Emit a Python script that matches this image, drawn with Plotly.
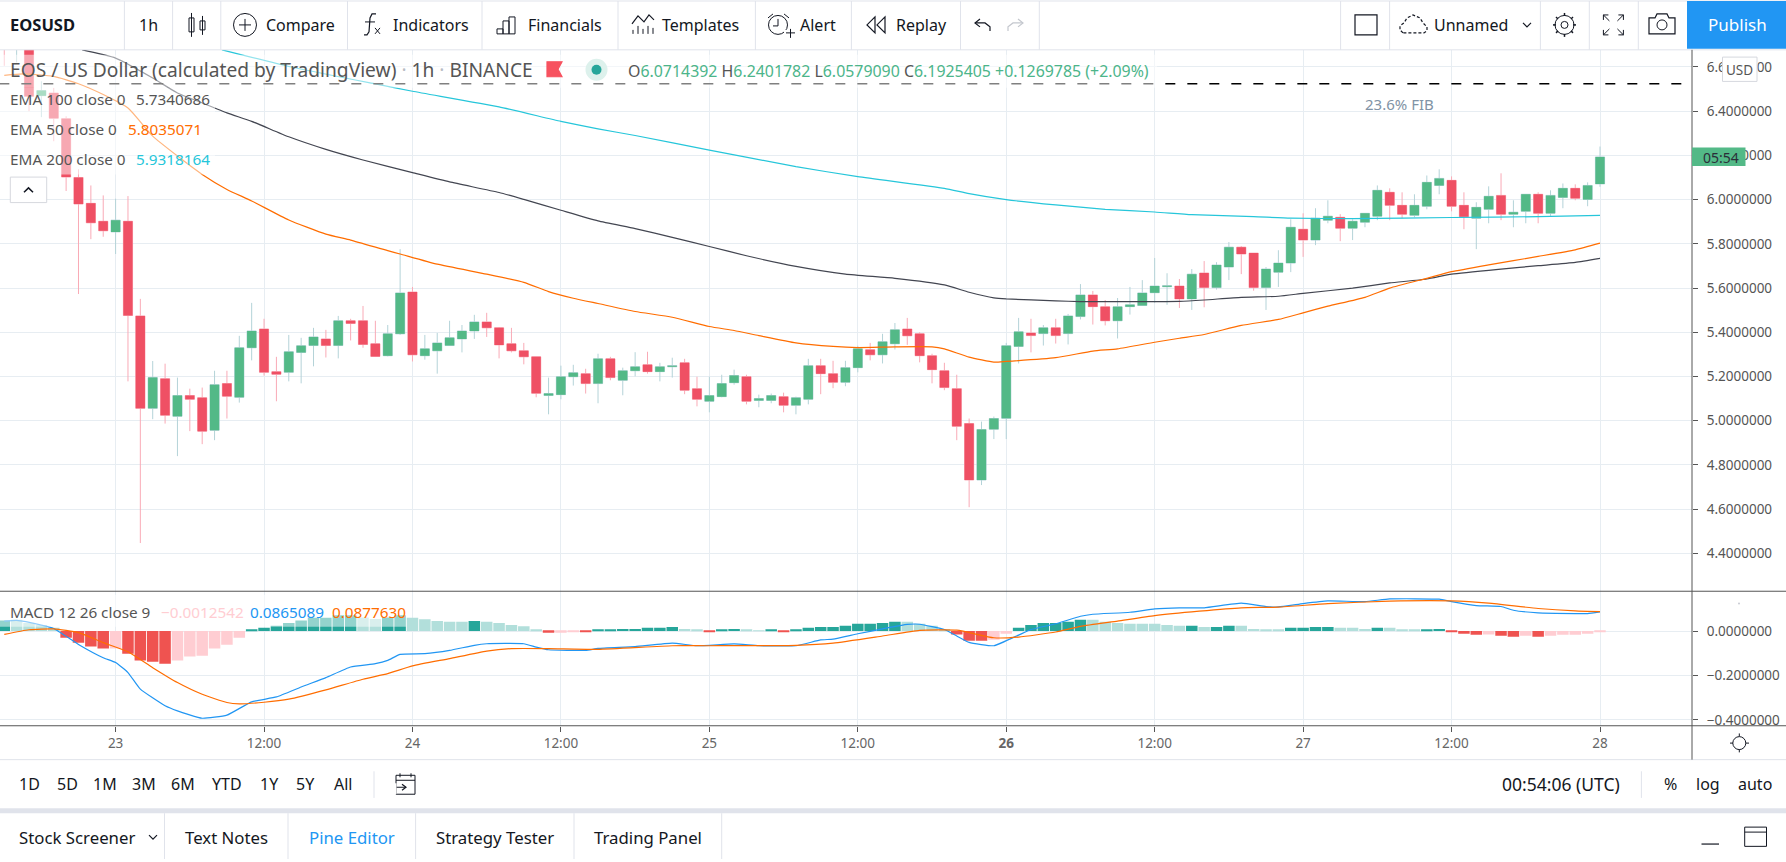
import plotly.graph_objects as go

W, H = 1786, 862
FONT = "Noto Sans"

# hours counted from the "23" gridline, one candle per hour
hours = list(range(-9, 121))

opens = [6.78, 6.72, 6.76, 6.470, 6.482, 6.366, 6.100, 5.983, 5.902, 5.854,
         5.902, 5.474, 5.056, 5.190, 5.020, 5.114, 5.104, 4.957, 5.168, 5.106,
         5.330, 5.415, 5.222, 5.219, 5.309, 5.340, 5.370, 5.340, 5.452, 5.452,
         5.348, 5.294, 5.393, 5.582, 5.294, 5.316, 5.340, 5.370, 5.406, 5.447,
         5.420, 5.348, 5.316, 5.289, 5.114, 5.118, 5.199, 5.213, 5.168, 5.280,
         5.183, 5.226, 5.253, 5.222, 5.244, 5.262, 5.145, 5.088, 5.109, 5.172,
         5.199, 5.092, 5.092, 5.109, 5.070, 5.097, 5.249, 5.213, 5.174, 5.240,
         5.321, 5.298, 5.348, 5.415, 5.393, 5.294, 5.226, 5.145, 4.987, 4.732,
         4.962, 5.011, 5.336, 5.397, 5.394, 5.420, 5.394, 5.471, 5.569, 5.515,
         5.452, 5.516, 5.521, 5.579, 5.606, 5.609, 5.551, 5.668, 5.602, 5.695,
         5.785, 5.758, 5.602, 5.672, 5.713, 5.866, 5.817, 5.907, 5.920, 5.871,
         5.898, 5.925, 6.033, 5.974, 5.929, 5.970, 6.064, 6.087, 5.974, 5.916,
         5.956, 6.019, 5.934, 5.947, 6.024, 5.938, 6.010, 6.051, 6.001, 6.071]
highs = [6.82, 6.80, 6.80, 6.535, 6.505, 6.377, 6.137, 6.064, 6.019, 6.004,
         6.016, 5.551, 5.270, 5.258, 5.195, 5.145, 5.150, 5.226, 5.226, 5.384,
         5.533, 5.461, 5.289, 5.388, 5.375, 5.420, 5.411, 5.474, 5.461, 5.519,
         5.452, 5.433, 5.776, 5.605, 5.388, 5.397, 5.452, 5.433, 5.479, 5.488,
         5.424, 5.420, 5.352, 5.289, 5.195, 5.249, 5.253, 5.235, 5.303, 5.289,
         5.240, 5.310, 5.312, 5.262, 5.285, 5.280, 5.199, 5.199, 5.208, 5.231,
         5.208, 5.118, 5.123, 5.127, 5.109, 5.280, 5.280, 5.271, 5.271, 5.339,
         5.352, 5.393, 5.442, 5.465, 5.400, 5.303, 5.262, 5.208, 5.010, 4.996,
         5.019, 5.352, 5.465, 5.461, 5.433, 5.461, 5.483, 5.618, 5.587, 5.546,
         5.555, 5.605, 5.636, 5.736, 5.667, 5.641, 5.686, 5.722, 5.717, 5.808,
         5.790, 5.758, 5.695, 5.771, 5.911, 5.938, 5.961, 5.997, 5.934, 5.911,
         5.938, 6.064, 6.051, 6.033, 6.024, 6.109, 6.137, 6.105, 6.033, 5.988,
         6.060, 6.119, 5.997, 6.024, 6.033, 6.042, 6.073, 6.069, 6.078, 6.240]
lows = [6.605, 6.62, 6.40, 6.373, 6.264, 6.039, 5.573, 5.821, 5.832, 5.754,
        5.178, 4.447, 5.007, 4.987, 4.840, 4.953, 4.894, 4.912, 5.010, 5.082,
        5.273, 5.204, 5.088, 5.178, 5.169, 5.246, 5.286, 5.282, 5.363, 5.330,
        5.288, 5.291, 5.388, 5.268, 5.276, 5.213, 5.340, 5.309, 5.370, 5.379,
        5.282, 5.309, 5.255, 5.106, 5.029, 5.097, 5.159, 5.123, 5.079, 5.183,
        5.115, 5.201, 5.213, 5.178, 5.195, 5.120, 5.065, 5.038, 5.106, 5.163,
        5.074, 5.061, 5.079, 5.038, 5.029, 5.074, 5.120, 5.147, 5.156, 5.219,
        5.273, 5.259, 5.322, 5.343, 5.264, 5.169, 5.138, 4.912, 4.609, 4.709,
        4.917, 4.917, 5.259, 5.309, 5.340, 5.349, 5.345, 5.458, 5.435, 5.431,
        5.372, 5.480, 5.521, 5.533, 5.524, 5.510, 5.501, 5.513, 5.593, 5.636,
        5.663, 5.588, 5.501, 5.605, 5.672, 5.741, 5.794, 5.893, 5.812, 5.817,
        5.875, 5.907, 5.907, 5.916, 5.920, 5.956, 6.024, 5.947, 5.866, 5.776,
        5.893, 5.907, 5.875, 5.893, 5.893, 5.926, 5.961, 5.997, 5.970, 6.058]
closes = [6.72, 6.76, 6.467, 6.493, 6.368, 6.102, 5.980, 5.895, 5.859, 5.907,
          5.476, 5.056, 5.195, 5.025, 5.114, 5.097, 4.953, 5.163, 5.111, 5.330,
          5.406, 5.219, 5.210, 5.312, 5.339, 5.379, 5.340, 5.452, 5.440, 5.345,
          5.291, 5.393, 5.578, 5.298, 5.325, 5.352, 5.375, 5.406, 5.447, 5.420,
          5.343, 5.316, 5.289, 5.124, 5.123, 5.199, 5.217, 5.168, 5.280, 5.195,
          5.226, 5.244, 5.222, 5.244, 5.249, 5.138, 5.097, 5.114, 5.168, 5.204,
          5.088, 5.100, 5.114, 5.070, 5.104, 5.249, 5.213, 5.174, 5.240, 5.325,
          5.298, 5.357, 5.411, 5.384, 5.294, 5.231, 5.150, 4.975, 4.732, 4.960,
          5.010, 5.339, 5.402, 5.385, 5.420, 5.385, 5.474, 5.569, 5.516, 5.452,
          5.515, 5.524, 5.578, 5.609, 5.610, 5.551, 5.663, 5.602, 5.704, 5.785,
          5.754, 5.602, 5.686, 5.713, 5.875, 5.817, 5.916, 5.925, 5.871, 5.902,
          5.938, 6.042, 5.974, 5.934, 5.974, 6.078, 6.096, 5.970, 5.923, 5.965,
          6.015, 5.934, 5.943, 6.024, 5.938, 6.019, 6.051, 6.006, 6.064, 6.193]

ema50_hours = [-9, -7.5, -5, -3, -1, 1, 3, 5, 7, 9, 11, 14, 17, 19, 22, 23, 26, 30, 33, 35, 37, 39,
               42, 45, 48, 50, 52, 55, 58, 60, 63, 66, 67, 69, 71, 72, 76, 79, 81, 84, 86, 88,
               91, 94, 96, 98, 101, 103, 106, 108, 111, 115, 118, 120]
ema50 = [6.562, 6.569, 6.557, 6.524, 6.475, 6.414, 6.287, 6.197, 6.114, 6.046, 5.994, 5.908, 5.844,
         5.817, 5.769, 5.754, 5.708, 5.663, 5.626, 5.584, 5.554, 5.530,
         5.494, 5.468, 5.426, 5.408, 5.385, 5.352, 5.336, 5.331, 5.334, 5.334, 5.325, 5.288, 5.265,
         5.268, 5.285, 5.315, 5.325, 5.355, 5.373, 5.390,
         5.431, 5.458, 5.488, 5.518, 5.558, 5.600, 5.644, 5.674, 5.705, 5.743, 5.773, 5.803]

ema100_hours = [-2.7, 0, 3, 5, 7, 9, 11, 14, 17, 20, 24, 27, 31, 33, 36, 39, 42, 45, 48, 51, 55, 59,
                63, 67, 69, 71, 72, 76, 78, 82, 86, 88, 91, 94, 96, 100, 103, 106, 108, 112, 115, 118, 120]
ema100 = [6.677, 6.640, 6.550, 6.482, 6.437, 6.392, 6.354, 6.284, 6.227, 6.179, 6.122, 6.080, 6.032,
          6.001, 5.952, 5.904, 5.869, 5.829, 5.788, 5.746, 5.698, 5.663, 5.644, 5.614, 5.581, 5.556,
          5.551, 5.542, 5.539, 5.539, 5.540, 5.546, 5.558, 5.563, 5.576, 5.600, 5.623, 5.641, 5.663,
          5.686, 5.701, 5.716, 5.734]

ema200_hours = [8.6, 14, 21, 24, 31, 36, 39, 42, 48, 55, 60, 67, 69, 72, 76, 80, 84, 87, 92, 95, 100,
                108, 115, 120]
ema200 = [6.677, 6.602, 6.523, 6.490, 6.419, 6.354, 6.320, 6.290, 6.224, 6.149, 6.104, 6.051, 6.027,
          6.000, 5.976, 5.956, 5.944, 5.932, 5.923, 5.916, 5.914, 5.919, 5.923, 5.929]

fib_hours = [-9.4, 126.7]
fib_level = [6.524, 6.524]

macd_hist = [0.048, 0.051, 0.037, 0.027, 0.015, -0.030, -0.052, -0.070, -0.079, -0.079,
             -0.102, -0.133, -0.138, -0.147, -0.133, -0.115, -0.111, -0.079, -0.061, -0.030,
             0.007, 0.015, 0.024, 0.037, 0.048, 0.060, 0.060, 0.072, 0.072, 0.061,
             0.055, 0.061, 0.072, 0.060, 0.054, 0.045, 0.042, 0.042, 0.046, 0.042,
             0.036, 0.028, 0.022, 0.007, -0.007, -0.007, -0.003, -0.003, 0.006, 0.006,
             0.010, 0.010, 0.015, 0.015, 0.019, 0.010, 0.006, -0.002, 0.006, 0.010,
             0.006, 0.002, 0.006, -0.002, 0.006, 0.015, 0.019, 0.019, 0.024, 0.033,
             0.033, 0.037, 0.042, 0.042, 0.033, 0.024, 0.009, -0.015, -0.043, -0.043,
             -0.039, -0.012, 0.015, 0.028, 0.037, 0.037, 0.042, 0.051, 0.051, 0.042,
             0.037, 0.033, 0.033, 0.033, 0.028, 0.024, 0.024, 0.019, 0.019, 0.024,
             0.024, 0.010, 0.006, 0.006, 0.015, 0.015, 0.019, 0.019, 0.015, 0.015,
             0.010, 0.015, 0.015, 0.006, 0.006, 0.006, 0.010, -0.003, -0.012, -0.016,
             -0.015, -0.021, -0.025, -0.021, -0.025, -0.021, -0.016, -0.016, -0.012, -0.001]
# 1 where the bar's size grew against the one before it, 0 where it shrank
macd_growing = [1, 0, 0, 0, 0, 1, 1, 1, 1, 0,
                1, 1, 1, 1, 0, 0, 0, 0, 0, 0,
                1, 1, 1, 1, 1, 1, 1, 1, 1, 0,
                0, 1, 1, 0, 0, 0, 0, 0, 1, 0,
                0, 0, 0, 0, 1, 0, 0, 1, 1, 1,
                1, 1, 1, 1, 1, 0, 0, 1, 1, 1,
                0, 0, 1, 1, 1, 1, 1, 1, 1, 1,
                1, 1, 1, 0, 0, 0, 0, 1, 1, 1,
                0, 0, 1, 1, 1, 1, 1, 1, 0, 0,
                0, 0, 0, 0, 0, 0, 1, 0, 1, 1,
                0, 0, 0, 0, 1, 1, 1, 1, 0, 0,
                0, 1, 0, 0, 0, 1, 1, 1, 1, 1,
                0, 1, 1, 0, 1, 0, 0, 0, 0, 0]

macd_hours = [-9, -8, -6, -5, -3, -1, 0, 1, 2, 4, 5, 7, 9, 11, 13, 15, 17, 19, 21, 22, 23, 25, 27, 29,
              30, 33, 34, 35, 38, 39, 42, 45, 47, 50, 52, 55, 57, 58, 60, 62, 64, 65, 67, 68, 69, 71,
              73, 74, 76, 78, 79, 82, 84, 86, 88, 91, 93, 94, 96, 98, 101, 103, 107, 108, 110, 112,
              113, 115, 118, 119, 120]
macd_line = [0.045, 0.048, 0.027, 0.012, -0.060, -0.120, -0.142, -0.187, -0.262, -0.337, -0.360, -0.393,
             -0.379, -0.319, -0.297, -0.252, -0.210, -0.162, -0.147, -0.132, -0.105, -0.102, -0.087,
             -0.064, -0.057, -0.057, -0.072, -0.084, -0.087, -0.078, -0.070, -0.054, -0.066, -0.058,
             -0.066, -0.066, -0.040, -0.036, -0.012, 0.010, 0.030, 0.031, 0.007, -0.022, -0.051, -0.066,
             -0.018, 0.007, 0.033, 0.067, 0.076, 0.085, 0.100, 0.105, 0.105, 0.126, 0.111, 0.109, 0.124,
             0.136, 0.133, 0.145, 0.144, 0.133, 0.115, 0.111, 0.094, 0.082, 0.079, 0.079, 0.0865]

signal_hours = [-9, -7, -5, -3, -1, 1, 3, 5, 7, 9, 10, 12, 14, 17, 20, 22, 24, 27, 30, 32, 35, 39, 45,
                48, 55, 58, 62, 65, 68, 71, 73, 76, 78, 81, 84, 87.6, 91, 94, 98, 103, 108, 111, 115,
                118, 120]
signal_line = [-0.015, 0.006, 0.010, -0.007, -0.052, -0.093, -0.165, -0.232, -0.285, -0.322, -0.328,
               -0.321, -0.307, -0.265, -0.217, -0.192, -0.157, -0.124, -0.090, -0.079, -0.079, -0.082,
               -0.066, -0.066, -0.064, -0.054, -0.022, 0.003, 0.004, -0.030, -0.027, -0.004, 0.021,
               0.045, 0.070, 0.090, 0.105, 0.108, 0.124, 0.135, 0.136, 0.126, 0.102, 0.091, 0.0877]

day_ticks = [0, 12, 24, 36, 48, 60, 72, 84, 96, 108, 120]
day_labels = ["23", "12:00", "24", "12:00", "25", "12:00", "<b>26</b>", "12:00", "27", "12:00", "28"]
price_ticks = [4.4, 4.6, 4.8, 5.0, 5.2, 5.4, 5.6, 5.8, 6.0, 6.2, 6.4, 6.6]
macd_ticks = [-0.4, -0.2, 0.0]

range_buttons = [("1D", 29), ("5D", 67), ("1M", 105), ("3M", 144), ("6M", 183), ("YTD", 226.5),
                 ("1Y", 269.4), ("5Y", 305.4), ("All", 343.3)]
toolbar_labels = [("Compare", 266), ("Indicators", 393), ("Financials", 528), ("Templates", 662),
                  ("Alert", 800), ("Replay", 896.6), ("Unnamed", 1434.7)]
tab_labels = [("Text Notes", 226.5, "#131722"), ("Pine Editor", 352, "#2196F3"),
              ("Strategy Tester", 495, "#131722"), ("Trading Panel", 648, "#131722")]

GREEN, RED = "#53B987", "#EF5064"
GREEN_WICK, RED_WICK = "#B4D3D8", "#F9AAB6"
AXIS = "#555555"
GRID = "#E7EDF2"
BORDER = "#E0E3EB"
INK = "#131722"
LABEL = "#555555"
ORANGE, BLUE, CYAN, DARK = "#FF6D00", "#2196F3", "#26C6DA", "#434651"

X_SPLIT = 1692
TOP, MID, BOTTOM = 50, 593.3, 728.3


def px(x):
    return x / W


def py(y):
    return 1 - y / H


shapes = []
annotations = []


def rect(x0, y0, x1, y1, fill=None, line=None, width=1, layer="above", opacity=1):
    shapes.append(dict(type="rect", xref="paper", yref="paper", x0=px(x0), y0=py(y0), x1=px(x1), y1=py(y1),
                       fillcolor=fill or "rgba(0,0,0,0)", line=dict(color=line or "rgba(0,0,0,0)", width=width if line else 0),
                       layer=layer, opacity=opacity))


def seg(x0, y0, x1, y1, color=BORDER, width=1, layer="above"):
    shapes.append(dict(type="line", xref="paper", yref="paper", x0=px(x0), y0=py(y0), x1=px(x1), y1=py(y1),
                       line=dict(color=color, width=width), layer=layer))


def circle(cx, cy, r, fill=None, line=None, width=1):
    shapes.append(dict(type="circle", xref="paper", yref="paper", x0=px(cx - r), y0=py(cy - r), x1=px(cx + r), y1=py(cy + r),
                       fillcolor=fill or "rgba(0,0,0,0)", line=dict(color=line or "rgba(0,0,0,0)", width=width if line else 0)))


def poly(points, color=INK, width=1.2, fill=None, close=False, dash=None):
    d = "M " + " L ".join("%.5f %.5f" % (px(x), py(y)) for x, y in points) + (" Z" if close else "")
    shapes.append(dict(type="path", xref="paper", yref="paper", path=d, fillcolor=fill or "rgba(0,0,0,0)",
                       line=dict(color=color, width=width, dash=dash or "solid")))


def label(x, y, s, size=16, color=INK, anchor="left"):
    if anchor == "left":
        x -= 1.3
    annotations.append(dict(xref="paper", yref="paper", x=px(x), y=py(y), text=s, showarrow=False,
                            xanchor=anchor, yanchor="middle", borderpad=0,
                            font=dict(family=FONT, size=size, color=color)))


fig = go.Figure()

# candles: pale wicks underneath, solid bodies on top
fig.add_trace(go.Candlestick(x=hours, open=opens, high=highs, low=lows, close=closes, xaxis="x", yaxis="y",
                             whiskerwidth=0,
                             increasing=dict(line=dict(color=GREEN_WICK, width=1), fillcolor=GREEN),
                             decreasing=dict(line=dict(color=RED_WICK, width=1), fillcolor=RED)))
fig.add_trace(go.Candlestick(x=hours, open=opens, close=closes,
                             high=[max(o, c) for o, c in zip(opens, closes)],
                             low=[min(o, c) for o, c in zip(opens, closes)],
                             xaxis="x", yaxis="y", whiskerwidth=0,
                             increasing=dict(line=dict(color=GREEN, width=0), fillcolor=GREEN),
                             decreasing=dict(line=dict(color=RED, width=0), fillcolor=RED)))

for xs, ys, color in [(ema100_hours, ema100, DARK), (ema50_hours, ema50, ORANGE), (ema200_hours, ema200, CYAN)]:
    fig.add_trace(go.Scatter(x=xs, y=ys, mode="lines", xaxis="x", yaxis="y",
                             line=dict(color=color, width=1.2, shape="spline", smoothing=0.5)))

fig.add_trace(go.Scatter(x=fib_hours, y=fib_level, mode="lines", xaxis="x", yaxis="y",
                         line=dict(color="#000000", width=1.5, dash="10px,12px")))

bar_colors = []
for v, g in zip(macd_hist, macd_growing):
    if v >= 0:
        bar_colors.append("#26A69A" if g else "#B2DFDB")
    else:
        bar_colors.append("#EF5350" if g else "#FFCDD2")
fig.add_trace(go.Bar(x=hours, y=macd_hist, marker=dict(color=bar_colors, line=dict(width=0)), xaxis="x2", yaxis="y2"))
fig.add_trace(go.Scatter(x=macd_hours, y=macd_line, mode="lines", xaxis="x2", yaxis="y2",
                         line=dict(color=BLUE, width=1.2, shape="spline", smoothing=0.4)))
fig.add_trace(go.Scatter(x=signal_hours, y=signal_line, mode="lines", xaxis="x2", yaxis="y2",
                         line=dict(color=ORANGE, width=1.2, shape="spline", smoothing=0.5)))

# panels around the plot
rect(0, 0, W, TOP, fill="white")
rect(0, BOTTOM + 34, W, H, fill="white")
rect(0, 811, W, 816, fill=BORDER)
seg(0, 1, W, 1)
seg(0, TOP, W, TOP)
seg(0, 762.3, W, 762.3)
for x in [124.4, 172.6, 220.8, 347.5, 482, 618, 755.4, 851.4, 960.5, 1039.3, 1340.6, 1389.6, 1540.4, 1589.3, 1638.3]:
    seg(x, 1, x, TOP)
for x in [164.5, 288, 415.6, 574, 721.7]:
    seg(x, 816, x, H)
seg(374, 774, 374, 800.7)
seg(1641.4, 774, 1641.4, 800.7)

seg(0, MID, W, MID, color=AXIS)
seg(0, BOTTOM, W, BOTTOM, color=AXIS)
seg(X_SPLIT, TOP, X_SPLIT, 762.3, color=AXIS)

# the legend rows wash out whatever runs below them
rect(0, 55, 1157, 88, fill="white", opacity=0.5)
rect(0, 88, 215, 175, fill="white", opacity=0.5)
rect(0, 597, 406, 629, fill="white", opacity=0.5)

# top toolbar
label(10.7, 25, "<b>EOSUSD</b>", 16.5)
label(148, 25, "1h", 16, anchor="center")
for name, x in toolbar_labels:
    label(x, 25, name, 16)
rect(1687, 1, W, 49, fill="#2196F3")
label(1737, 25, "Publish", 17, "white", "center")

# candle icon
seg(191.5, 13, 191.5, 37, INK)
rect(189, 18, 194, 32, line=INK)
seg(202.5, 16, 202.5, 35, INK)
rect(200, 21, 205, 30, line=INK)
# compare
circle(245, 25, 11.5, line=INK)
seg(239, 25, 251, 25, INK)
seg(245, 19, 245, 31, INK)
# fx
poly([(376, 14), (372, 14), (370, 18), (369, 32), (367, 35), (364, 35)])
seg(365, 22, 375, 22, INK)
seg(375, 28, 380, 34, INK)
seg(380, 28, 375, 34, INK)
# financials
rect(497, 29, 503, 34, line=INK)
rect(503, 21, 509, 34, line=INK)
rect(509, 17, 515, 34, line=INK)
# templates
poly([(632, 24), (638, 16), (644, 22), (649, 15), (654, 20)])
for x, y in [(633, 30), (638, 26), (643, 29), (648, 26), (653, 28)]:
    seg(x, y, x, 34, INK)
# alert
circle(778, 25, 9.5, line=INK)
seg(778, 19, 778, 26, INK)
seg(778, 26, 773, 26, INK)
rect(784, 30, 795, 38, fill="white")
seg(786, 33, 795, 33, INK)
seg(790.5, 29, 790.5, 38, INK)
seg(768, 18, 773, 14, INK)
seg(784, 14, 789, 18, INK)
# replay
poly([(875, 17), (867, 25), (875, 33)], close=True)
poly([(885, 17), (877, 25), (885, 33)], close=True)
# undo and redo
poly([(980, 19), (975, 23), (980, 27)])
poly([(975, 23), (985, 23), (990, 27), (990, 31)])
poly([(1018, 19), (1023, 23), (1018, 27)], color="#C4C7CE")
poly([(1023, 23), (1013, 23), (1008, 27), (1008, 31)], color="#C4C7CE")
# layout square
shapes.append(dict(type="rect", xref="paper", yref="paper", x0=px(1355), y0=py(15), x1=px(1377), y1=py(35),
                   line=dict(color=INK, width=1.2), fillcolor="rgba(0,0,0,0)"))
# cloud
poly([(1403, 33), (1400, 30), (1400, 26), (1404, 23), (1407, 18), (1413, 15), (1420, 18), (1423, 23),
      (1427, 27), (1427, 31), (1424, 33)], dash="3px,2px", close=True)
poly([(1523, 23), (1527, 27), (1531, 23)])
# settings
circle(1564.5, 25, 9.5, line=INK)
circle(1564.5, 25, 3.5, line=INK)
for x0, y0, x1, y1 in [(1564.5, 13, 1564.5, 16), (1564.5, 34, 1564.5, 37), (1553, 25, 1556, 25), (1573, 25, 1576, 25),
                       (1556, 17, 1558, 19), (1571, 31, 1573, 33), (1556, 33, 1558, 31), (1571, 19, 1573, 17)]:
    seg(x0, y0, x1, y1, INK, 1.5)
# fullscreen
for sx, sy in [(-1, -1), (1, -1), (-1, 1), (1, 1)]:
    seg(1613.4 + sx * 4, 25 + sy * 4, 1613.4 + sx * 10, 25 + sy * 10, INK)
    seg(1613.4 + sx * 10, 25 + sy * 10, 1613.4 + sx * 5, 25 + sy * 10, INK)
    seg(1613.4 + sx * 10, 25 + sy * 10, 1613.4 + sx * 10, 25 + sy * 5, INK)
# camera
poly([(1649, 18), (1655, 18), (1657, 14), (1667, 14), (1669, 18), (1675, 18), (1675, 34), (1649, 34)], close=True)
circle(1662, 25, 5, line=INK)

# chart legend
dot = '<span style="color:#B9BCC4"> · </span>'
label(10.7, 70, "EOS / US Dollar (calculated by TradingView)" + dot + "1h" + dot + "BINANCE", 19.2, LABEL)
poly([(547, 62), (562, 62), (558, 69.5), (562, 77), (547, 77)], color="#F7525F", fill="#F7525F", close=True)
circle(596.5, 70, 11, fill="#DDF1EC")
circle(596.5, 70, 5, fill="#26A69A")
g = lambda s: '<span style="color:%s">%s</span>' % ("#4CB58A", s)
label(628.7, 71.7, "O" + g("6.0714392") + " H" + g("6.2401782") + " L" + g("6.0579090") + " C" + g("6.1925405")
      + " " + g("+0.1269785 (+2.09%)"), 15.9, LABEL)
for y, name, value, vx, color in [(99.3, "EMA 100 close 0", "5.7340686", 136, LABEL),
                                  (129.3, "EMA 50 close 0", "5.8035071", 127.8, ORANGE),
                                  (159.3, "EMA 200 close 0", "5.9318164", 136, CYAN)]:
    label(10.7, y, name, 15.3, LABEL)
    label(vx, y, value, 15.3, color)
rect(10.3, 177.7, 46.7, 203.3, fill="white", line="#D6D8DE")
poly([(24, 193), (28.5, 188.5), (33, 193)], width=1.5)
label(1399, 104, "23.6% FIB", 15, "#8193A5", "center")

rect(1722.5, 57.3, 1757, 81.7, fill="white", line="#D6D8DE")
label(1739.7, 70, "USD", 13.5, LABEL, "center")
rect(X_SPLIT, 148, 1745.5, 166.7, fill=GREEN)
label(1721, 158, "05:54", 14, "#2A2E39", "center")

label(10.7, 613.7, "MACD 12 26 close 9", 15.3, LABEL)
label(161.5, 613.7, "−0.0012542", 15.3, "#FFCDD2")
label(250.7, 613.7, "0.0865089", 15.3, BLUE)
label(332, 613.7, "0.0877630", 15.3, ORANGE)
circle(1739, 605.7, 1, fill="#C8CBD2")

# bottom controls
for name, x in range_buttons:
    label(x, 786.7, name, 16, anchor="center")
rect(396, 778, 415, 797, line=INK)
seg(396, 783, 415, 783, INK)
seg(400, 776, 400, 780, INK)
seg(411, 776, 411, 780, INK)
seg(396, 790, 406, 790, INK)
poly([(402, 787), (406, 790), (402, 793)])
rect(394, 786, 396.5, 797, fill="white")
label(1561, 786.7, "00:54:06 (UTC)", 17.5, anchor="center")
label(1670.5, 786.7, "%", 16, anchor="center")
label(1708.4, 786.7, "log", 16, anchor="center")
label(1755, 786.7, "auto", 16, anchor="center")
circle(1739.3, 745.7, 6.5, line=INK)
for x0, y0, x1, y1 in [(1739.3, 736, 1739.3, 739), (1739.3, 752, 1739.3, 755), (1730, 745.7, 1733, 745.7), (1746, 745.7, 1749, 745.7)]:
    seg(x0, y0, x1, y1, INK)

label(19, 840, "Stock Screener", 16.8)
poly([(149, 838), (153, 842), (157, 838)])
for name, x, color in tab_labels:
    label(x, 840, name, 16.8, color, "center")
seg(1701.5, 847, 1719, 847, INK, 1.2)
rect(1744.7, 830, 1766.5, 849.3, line=INK)
seg(1744.7, 835, 1766.5, 835, INK)

x_range = [-115.6 / 12.37, (X_SPLIT - 115.6) / 12.37]
xaxis = dict(range=x_range, domain=[0, X_SPLIT / W], tickmode="array", tickvals=day_ticks, ticktext=day_labels,
             showgrid=True, gridcolor=GRID, gridwidth=1, zeroline=False, showline=False, rangeslider=dict(visible=False))

fig.update_layout(
    width=W, height=H, margin=dict(l=0, r=0, t=0, b=0), paper_bgcolor="white", plot_bgcolor="white",
    showlegend=False, hovermode=False, boxmode="overlay", boxgap=0.26, boxgroupgap=0, bargap=0.07,
    font=dict(family=FONT, color=LABEL),
    xaxis=dict(xaxis, anchor="y", showticklabels=False, ticks=""),
    xaxis2=dict(xaxis, anchor="y2", matches="x", ticks="outside", ticklen=5, tickcolor=AXIS, tickwidth=1,
                tickfont=dict(size=13.5, color="#666666")),
    yaxis=dict(domain=[py(MID), py(TOP)], range=[6.0 - (MID - 200.3) / 221.9, 6.0 + (200.3 - TOP) / 221.9],
               side="right", anchor="x", tickmode="array", tickvals=price_ticks, tickformat=".7f",
               ticks="outside", ticklen=5, tickcolor=AXIS, tickwidth=1, tickfont=dict(size=13.5, color=LABEL),
               showgrid=True, gridcolor=GRID, gridwidth=1, zeroline=False, ticklabelstandoff=6),
    yaxis2=dict(domain=[py(BOTTOM), py(MID)], range=[-(BOTTOM - 633.3) / 222.5, (633.3 - MID) / 222.5],
                side="right", anchor="x2", tickmode="array", tickvals=macd_ticks, tickformat=".7f",
                ticks="outside", ticklen=5, tickcolor=AXIS, tickwidth=1, tickfont=dict(size=13.5, color=LABEL),
                showgrid=True, gridcolor=GRID, gridwidth=1, zeroline=False, ticklabelstandoff=6),
    shapes=shapes, annotations=annotations,
)

fig.write_html("out.html", config=dict(displayModeBar=False), post_script="document.body.style.margin='0';")
